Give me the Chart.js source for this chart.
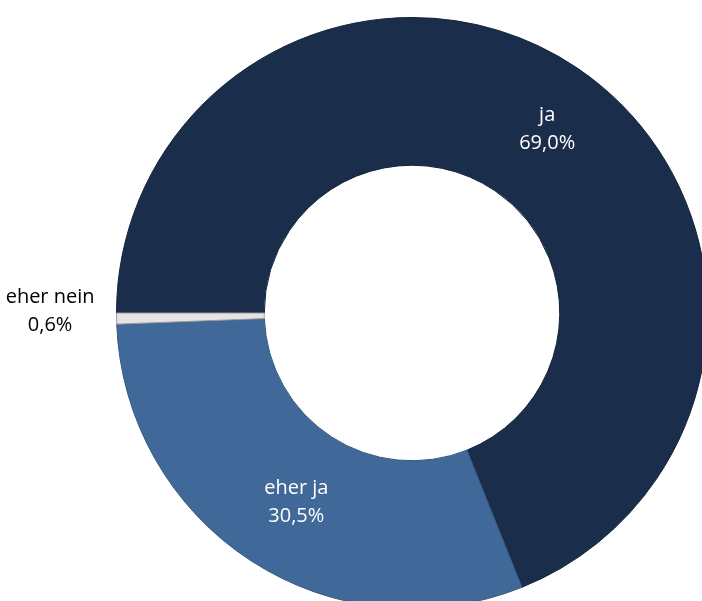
<!DOCTYPE html>
<html>
<head>
<meta charset="utf-8">
<script src="https://cdn.jsdelivr.net/npm/chart.js@4.4.0/dist/chart.umd.min.js"></script>
<style>
  html, body { margin: 0; padding: 0; overflow: hidden; background: #fff; }
  canvas { display: block; }
</style>
</head>
<body>
<canvas id="myChart" width="830" height="626"></canvas>
<script>
const categories = ['ja', 'eher ja', 'eher nein'];
const values = [69.0, 30.5, 0.6];
const sliceColors = ['#1a2d4b', '#406899', '#e4e4e4'];
const edgeColors = ['#13223a', '#34577f', '#9a9a9a'];

const fmt = v => v.toFixed(1).replace('.', ',') + '%';

// writes "name / value" on each slice, the tiny one goes outside on the left
const sliceLabels = {
  id: 'sliceLabels',
  afterDatasetsDraw(chart) {
    const ctx = chart.ctx;
    const meta = chart.getDatasetMeta(0);
    ctx.save();
    ctx.font = '20px "Open Sans"';
    ctx.textAlign = 'center';
    ctx.textBaseline = 'middle';
    meta.data.forEach((arc, i) => {
      const lines = [categories[i], fmt(values[i])];
      let x, y;
      if (values[i] < 5) {
        const p = arc.getProps(['x', 'y', 'startAngle', 'endAngle', 'outerRadius'], true);
        const mid = (p.startAngle + p.endAngle) / 2;
        const w = Math.max(...lines.map(t => ctx.measureText(t).width));
        x = p.x + Math.cos(mid) * p.outerRadius - 22 - w / 2;
        y = p.y + Math.sin(mid) * p.outerRadius - 7;
        ctx.fillStyle = '#000';
      } else {
        const c = arc.tooltipPosition(true);
        x = c.x + (i === 0 ? 11 : 5);
        y = c.y + (i === 0 ? 0 : 3);
        ctx.fillStyle = '#fff';
      }
      ctx.fillText(lines[0], x, y - 14);
      ctx.fillText(lines[1], x, y + 14);
    });
    ctx.restore();
  }
};

new Chart(document.getElementById('myChart'), {
  type: 'doughnut',
  data: {
    labels: categories,
    datasets: [{
      data: values,
      backgroundColor: sliceColors,
      borderColor: edgeColors,
      borderWidth: 1
    }]
  },
  options: {
    responsive: false,
    animation: false,
    rotation: 270,
    cutout: '50%',
    layout: { padding: { left: 116, right: 122, top: 17, bottom: 17 } },
    plugins: {
      legend: { display: false },
      tooltip: { enabled: false }
    }
  },
  plugins: [sliceLabels]
});
</script>
</body>
</html>
